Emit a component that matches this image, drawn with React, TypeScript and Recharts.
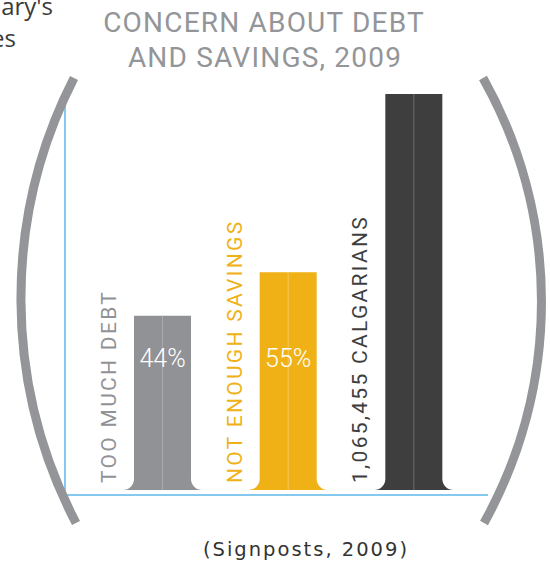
import { BarChart, Bar, XAxis, YAxis, LabelList } from 'recharts'

// share of Calgarians concerned, 2009 (last bar = whole population)
const categories = ['TOO MUCH DEBT', 'NOT ENOUGH SAVINGS', '1,065,455 CALGARIANS']
const shares = [44, 55, 100]
const shareLabels = ['44%', '55%', '']
const titleLines = ['CONCERN ABOUT DEBT', 'AND SAVINGS, 2009']
const source = '(Signposts, 2009)'
const clippedText = ["ary's", 'es']

const colors = ['#919296', '#efb115', '#3e3e3e']
const seams = ['#a8a9ac', '#f5ca55', '#6c6c6c']
const grey = '#939598'
const axisBlue = '#86c9ee'

const data = categories.map((name, i) => ({ name, share: shares[i], label: shareLabels[i] }))

function FlaredBar(props: any) {
  const { x, y, width, height, index } = props
  const r = 11
  const b = y + height
  const d = `M${x},${y} H${x + width} V${b - r} A${r},${r} 0 0 0 ${x + width + r},${b} H${x - r} A${r},${r} 0 0 0 ${x},${b - r} Z`
  return (
    <g>
      <path d={d} fill={colors[index]} />
      <line x1={x + width / 2} x2={x + width / 2} y1={y} y2={b} stroke={seams[index]} strokeWidth={1} />
    </g>
  )
}

function NameLabel(props: any) {
  const vb = props.viewBox ?? props
  const { x, y, height } = vb
  const i = props.index
  const lx = x - 25
  const ly = y + height - 7
  return (
    <text
      x={lx}
      y={ly}
      transform={`rotate(-90 ${lx} ${ly})`}
      fill={colors[i]}
      fontSize={21}
      letterSpacing={2.3}
      fontFamily="Roboto"
      dominantBaseline="central"
    >
      {props.value}
    </text>
  )
}

function ShareLabel(props: any) {
  if (!props.value) return null
  const vb = props.viewBox ?? props
  const { x, y, width, height } = vb
  return (
    <text
      x={x + width / 2}
      y={y + height - 132}
      fill="#fff"
      fontSize={25}
      fontWeight={300}
      fontFamily="Roboto"
      textAnchor="middle"
      dominantBaseline="central"
    >
      {props.value}
    </text>
  )
}

export default function App() {
  return (
    <div style={{ position: 'absolute', left: 0, top: 0, width: 550, height: 564, background: '#fff' }}>
      <BarChart
        width={550}
        height={564}
        data={data}
        margin={{ top: 94, right: 62, bottom: 68, left: 64 }}
      >
        <XAxis
          dataKey="name"
          type="category"
          height={1}
          padding={{ left: 35, right: 11 }}
          tick={false}
          tickLine={false}
          axisLine={{ stroke: axisBlue, strokeWidth: 2 }}
        />
        <YAxis
          type="number"
          domain={[0, 100]}
          width={1}
          padding={{ top: 0, bottom: 5 }}
          tick={false}
          tickLine={false}
          axisLine={{ stroke: axisBlue, strokeWidth: 2 }}
        />
        <Bar dataKey="share" barSize={57} shape={<FlaredBar />} isAnimationActive={false}>
          <LabelList dataKey="name" content={<NameLabel />} />
          <LabelList dataKey="label" content={<ShareLabel />} />
        </Bar>
      </BarChart>
      <svg
        width={550}
        height={564}
        style={{ position: 'absolute', left: 0, top: 0, pointerEvents: 'none' }}
      >
        <path d="M74,78 A485,485 0 0 0 76,523" fill="none" stroke={grey} strokeWidth={9} />
        <path d="M483,78 A456,456 0 0 1 484,523" fill="none" stroke={grey} strokeWidth={9} />
        <g fontFamily="Roboto" fontSize={28} fill={grey} letterSpacing={1.2} textAnchor="middle">
          <text x={264} y={32}>{titleLines[0]}</text>
          <text x={265} y={67}>{titleLines[1]}</text>
        </g>
        <g fontFamily="Open Sans" fontSize={24} fill="#3a3a3a" textAnchor="end">
          <text x={53} y={15}>{clippedText[0]}</text>
          <text x={16} y={47}>{clippedText[1]}</text>
        </g>
        <text x={306} y={556} fontFamily="DejaVu Sans" fontSize={19.5} letterSpacing={2} fill="#333" textAnchor="middle">
          {source}
        </text>
      </svg>
    </div>
  )
}
